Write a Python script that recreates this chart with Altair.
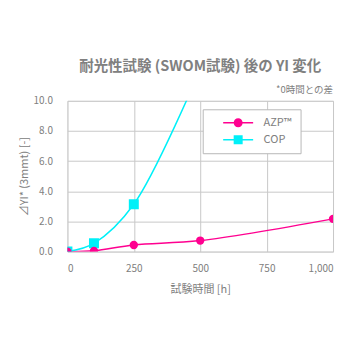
import altair as alt
import pandas as pd

hours = [0, 100, 250, 500, 1000]
azp = [0.0, 0.05, 0.44, 0.73, 2.17]
cop_hours = [0, 100, 250, 500]
cop = [0.0, 0.55, 3.14, 12.1]
series_names = ["AZP™", "COP"]
colors = ["#ff0090", "#00f0f8"]

rows = [{"h": h, "v": v, "s": "AZP™"} for h, v in zip(hours, azp)]
rows += [{"h": h, "v": v, "s": "COP"} for h, v in zip(cop_hours, cop)]
df = pd.DataFrame(rows)

FONT = "Noto Sans CJK JP"
GRAY = "#808080"

W, H = 266, 151

xenc = alt.X("h:Q", scale=alt.Scale(domain=[0, 1000], nice=False),
             axis=alt.Axis(values=[0, 250, 500, 750, 1000], format=",d", title="試験時間 [h]",
                           titleFontSize=11, titleColor=GRAY, titleFont=FONT, titlePadding=10,
                           titleFontWeight="normal",
                           labelFontSize=10, labelColor=GRAY, labelFont=FONT, labelPadding=12,
                           labelOverlap=False,
                           ticks=False, domain=False, gridColor="#c8c8c8", grid=True))
yenc = alt.Y("v:Q", scale=alt.Scale(domain=[0, 10], nice=False),
             axis=alt.Axis(values=[0, 2, 4, 6, 8, 10], format=".1f", title="⊿YI* (3mmt) [-]",
                           titleFontSize=11, titleColor=GRAY, titleFont=FONT, titlePadding=4,
                           titleFontWeight="normal", labelOverlap=False,
                           labelFontSize=10, labelColor=GRAY, labelFont=FONT, labelPadding=15,
                           ticks=False, domain=False, gridColor="#c8c8c8", grid=True))

circle_path = "M-3,-0.15H3V0.15H-3Z M0.9,0A0.9,0.9,0,1,1,-0.9,0A0.9,0.9,0,1,1,0.9,0Z"
square_path = "M-3,-0.15H3V0.15H-3Z M-0.9,-0.9H0.9V0.9H-0.9Z"

legend = alt.Legend(
    title=" ", titleOrient="right", titlePadding=0, titleFontSize=11,
    orient="none", legendX=135.5, legendY=8.5, direction="vertical",
    labelFont=FONT, labelFontSize=11, labelColor=GRAY, labelOffset=20,
    symbolSize=100, symbolStrokeWidth=0, symbolOpacity=1, symbolOffset=22, rowPadding=5,
    padding=8, fillColor="white", strokeColor="#b8b8b8")

color = alt.Color("s:N", scale=alt.Scale(domain=series_names, range=colors), legend=legend)
shape = alt.Shape("s:N", scale=alt.Scale(domain=series_names, range=[circle_path, square_path]),
                  legend=legend)

lines = alt.Chart(df).mark_line(interpolate="catmull-rom", strokeWidth=1.5, clip=True).encode(
    x=xenc, y=yenc, color=color)

legend_layer = alt.Chart(df).transform_filter("false").mark_point(
    filled=True, size=100, opacity=1).encode(x=xenc, y=yenc, color=color, shape=shape)

pts_azp = alt.Chart(df).transform_filter("datum.s == 'AZP™'").mark_point(
    shape="circle", filled=True, size=70, opacity=1, clip=True, color="#ff0090").encode(
    x=xenc, y=yenc)
pts_cop = alt.Chart(df).transform_filter("datum.s == 'COP'").mark_point(
    shape="square", filled=True, size=100, opacity=1, clip=True, color="#00f0f8").encode(
    x=xenc, y=yenc)

note = alt.Chart(pd.DataFrame({"t": ["*0時間との差"]})).mark_text(
    align="right", baseline="middle", font=FONT, fontSize=9.5, color=GRAY).encode(
    x=alt.value(W), y=alt.value(-11), text="t:N")

chart = alt.layer(lines, legend_layer, pts_cop, pts_azp, note).properties(
    width=W, height=H,
    title=alt.TitleParams("耐光性試験 (SWOM試験) 後の YI 変化", font=FONT, fontSize=14.5,
                          fontWeight="bold", color=GRAY, anchor="middle", offset=10),
    autosize=alt.AutoSizeParams(type="none"),
    padding={"left": 59.5, "top": 92.7, "right": 15, "bottom": 96},
).configure_view(stroke="#b0b0b0", strokeWidth=1.5).configure(background="white")

chart.save("out.html", embed_options={"renderer": "svg", "actions": False})
